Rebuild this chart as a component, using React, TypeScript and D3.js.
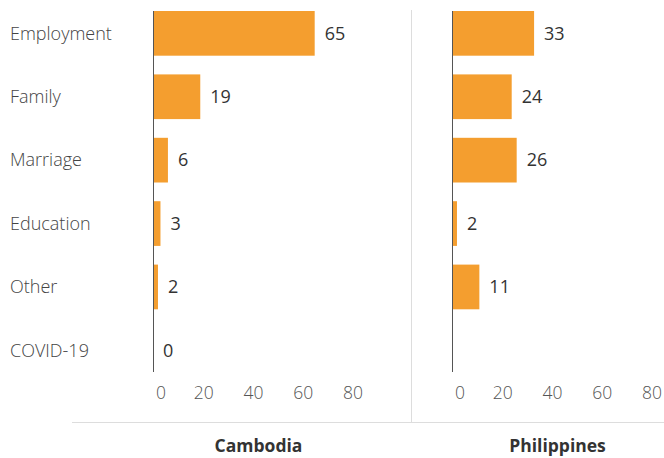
import React from "react";
import * as d3 from "d3";

const categories = ["Employment", "Family", "Marriage", "Education", "Other", "COVID-19"];
const cambodiaValues: (number | null)[] = [65, 19, 6, 3, 2, 0];
const philippinesValues: (number | null)[] = [33, 24, 26, 2, 11, null];
const panelTitles = ["Cambodia", "Philippines"];
const tickValues = [0, 20, 40, 60, 80];

const W = 664;
const H = 458;
const FONT = "'Open Sans', Lato, sans-serif";
const ORANGE = "#f49e2f";

export default function App() {
  const y = d3.scaleBand<string>().domain(categories).range([11, 372.7]).paddingInner(0.295).paddingOuter(0);
  const panels = [
    { title: panelTitles[0], values: cambodiaValues, x: d3.scaleLinear().domain([0, 80]).range([153, 352]) },
    { title: panelTitles[1], values: philippinesValues, x: d3.scaleLinear().domain([0, 80]).range([452, 651]) },
  ];
  const bw = y.bandwidth();
  return (
    <svg width={W} height={H} style={{ position: "absolute", left: 0, top: 0, fontFamily: FONT }}>
      <rect width={W} height={H} fill="#fff" />
      {categories.map((c) => (
        <text key={c} x={10} y={(y(c) as number) + bw / 2} dy="0.35em" fontSize={18} fill="#444" fontWeight={300}>
          {c}
        </text>
      ))}
      <line x1={411.5} x2={411.5} y1={10} y2={422} stroke="#ddd" />
      <line x1={72} x2={W} y1={422.5} y2={422.5} stroke="#ddd" />
      {panels.map((p) => {
        const x0 = p.x(0);
        return (
          <g key={p.title}>
            {categories.map((c, i) => {
              const v = p.values[i];
              if (v === null) return null;
              const yy = y(c) as number;
              return (
                <g key={c}>
                  {v > 0 && <rect x={x0} y={yy} width={p.x(v) - x0} height={bw} fill={ORANGE} />}
                  <text x={p.x(v) + 10} y={yy + bw / 2} dy="0.35em" fontSize={18} fill="#333">
                    {v}
                  </text>
                </g>
              );
            })}
            <line x1={x0 + 0.5} x2={x0 + 0.5} y1={11} y2={372} stroke="#555" />
            {tickValues.map((t, i) => (
              <text
                key={t}
                x={i === 0 ? p.x(t) + 3 : p.x(t) + 1}
                y={393}
                dy="0.35em"
                textAnchor={i === 0 ? "start" : "middle"}
                fontSize={17.5}
                fill="#555"
                fontWeight={300}
              >
                {t}
              </text>
            ))}
            <text x={(p.x.range()[0] + p.x.range()[1]) / 2 + 6} y={446} dy="0.35em" textAnchor="middle" fontSize={17.5} fontWeight={700} fill="#333">
              {p.title}
            </text>
          </g>
        );
      })}
    </svg>
  );
}
